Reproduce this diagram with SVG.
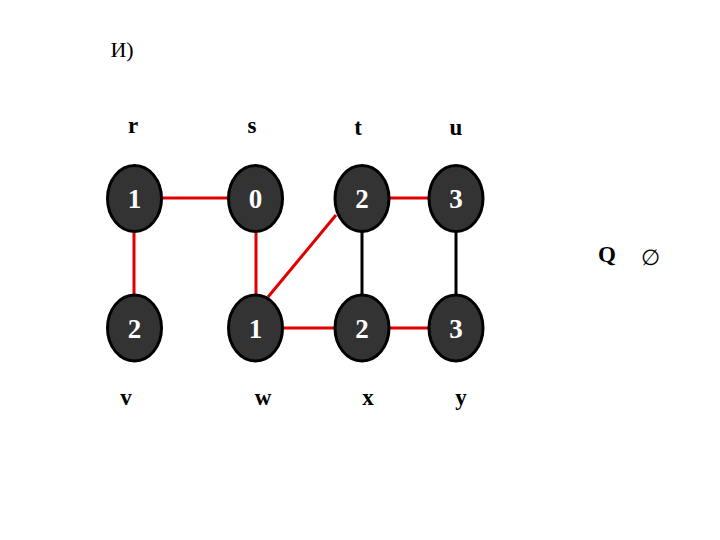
<svg xmlns="http://www.w3.org/2000/svg" width="720" height="540" viewBox="0 0 720 540">
<style>
.n ellipse{fill:#333;stroke:#000;stroke-width:3}
.n text{fill:#fff;font-family:"Liberation Serif",serif;font-size:27px;font-weight:bold;text-anchor:middle}
.lbl{font-family:"Liberation Serif",serif;font-size:23px;fill:#000;text-anchor:middle;font-weight:bold}
.t{font-family:"Liberation Serif",serif;font-size:22px;fill:#000;text-anchor:middle}
.r{stroke:#e00000;stroke-width:3;fill:none}
.b{stroke:#000;stroke-width:3;fill:none}
</style>
<rect width="720" height="540" fill="#fff"/>
<text class="t" x="122" y="57">И)</text>
<g id="edges">
<line class="r" x1="162" y1="198" x2="228" y2="198"/>
<line class="r" x1="134" y1="231" x2="134" y2="295"/>
<line class="r" x1="256" y1="231" x2="256" y2="295"/>
<line class="r" x1="336" y1="215" x2="268" y2="297"/>
<line class="r" x1="389" y1="198" x2="429" y2="198"/>
<line class="b" x1="362" y1="231" x2="362" y2="295"/>
<line class="b" x1="456" y1="231" x2="456" y2="295"/>
<line class="r" x1="283" y1="328" x2="335" y2="328"/>
<line class="r" x1="389" y1="328" x2="429" y2="328"/>
</g>
<g id="node-r" class="n"><ellipse cx="134.5" cy="198.5" rx="27" ry="33"/><text x="134.5" y="208">1</text></g>
<g id="node-s" class="n"><ellipse cx="255.5" cy="198.5" rx="27" ry="33"/><text x="255.5" y="208">0</text></g>
<g id="node-t" class="n"><ellipse cx="362" cy="198.5" rx="27" ry="33"/><text x="362" y="208">2</text></g>
<g id="node-u" class="n"><ellipse cx="456" cy="198.5" rx="27" ry="33"/><text x="456" y="208">3</text></g>
<g id="node-v" class="n"><ellipse cx="134.5" cy="328" rx="27" ry="33"/><text x="134.5" y="338">2</text></g>
<g id="node-w" class="n"><ellipse cx="255.5" cy="328" rx="27" ry="33"/><text x="255.5" y="338">1</text></g>
<g id="node-x" class="n"><ellipse cx="362" cy="328" rx="27" ry="33"/><text x="362" y="338">2</text></g>
<g id="node-y" class="n"><ellipse cx="456" cy="328" rx="27" ry="33"/><text x="456" y="338">3</text></g>
<g id="labels">
<text class="lbl" x="133" y="133">r</text>
<text class="lbl" x="252" y="133">s</text>
<text class="lbl" x="358" y="135">t</text>
<text class="lbl" x="456" y="135">u</text>
<text class="lbl" x="126" y="405">v</text>
<text class="lbl" x="263" y="405">w</text>
<text class="lbl" x="368" y="405">x</text>
<text class="lbl" x="461" y="405">y</text>
<text class="lbl" x="607" y="262">Q</text>
<text class="t" x="650" y="265" font-size="32">∅</text>
</g>
</svg>
